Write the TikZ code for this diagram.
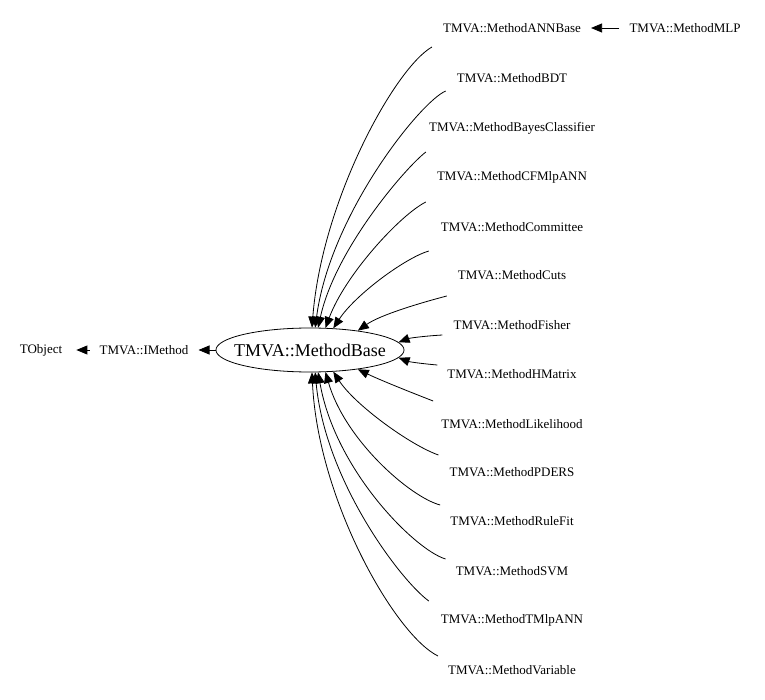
\documentclass[tikz,border=0pt]{standalone}
\usepackage{fontspec}
\setmainfont{Liberation Serif}
\usetikzlibrary{shapes.geometric,arrows.meta}
\tikzstyle{cls}=[inner xsep=10pt, inner ysep=3pt, font=\fontsize{13}{15}\selectfont]
\tikzstyle{base}=[ellipse, draw, line width=0.8pt, inner sep=0pt, minimum height=44pt, font=\fontsize{18}{20}\selectfont]
\tikzstyle{inh}=[line width=0.8pt, -{Triangle[length=11pt,width=9pt]}]
\begin{document}
\begin{tikzpicture}[x=1pt, y=-1pt]
                    \useasboundingbox (0,0) rectangle (765,700);
                    \node[base] (1) at (310,350) {\makebox[133pt]{TMVA::MethodBase}};
                    \node[cls] (2) at (144,350) {TMVA::IMethod};
                    \node[cls, inner xsep=14pt] (3) at (41,350) {TObject};
                    \node[cls] (4) at (512,28) {TMVA::MethodANNBase};
                    \node[cls] (5) at (685,28) {TMVA::MethodMLP};
                    \node[cls] (6) at (512,78) {TMVA::MethodBDT};
                    \node[cls] (7) at (512,128) {TMVA::MethodBayesClassifier};
                    \node[cls] (8) at (512,177) {TMVA::MethodCFMlpANN};
                    \node[cls] (9) at (512,227) {TMVA::MethodCommittee};
                    \node[cls] (10) at (512,275) {TMVA::MethodCuts};
                    \node[cls] (11) at (512,325) {TMVA::MethodFisher};
                    \node[cls] (12) at (512,374) {TMVA::MethodHMatrix};
                    \node[cls] (13) at (512,424) {TMVA::MethodLikelihood};
                    \node[cls] (14) at (512,472) {TMVA::MethodPDERS};
                    \node[cls] (15) at (512,521) {TMVA::MethodRuleFit};
                    \node[cls] (16) at (512,571) {TMVA::MethodSVM};
                    \node[cls] (17) at (512,620) {TMVA::MethodTMlpANN};
                    \node[cls] (18) at (512,670) {TMVA::MethodVariable};
                    \draw[inh] (2)--(3);
                    \draw[inh] (1)--(2);
                    \draw[inh] (5)--(4);
                    \draw[inh] ([shift={(-1,19)}]4.west) .. controls (395,68) and (322,200) .. (1.85);
                    \draw[inh] ([shift={(-1,13)}]6.west) .. controls (420,102) and (330,215) .. (1.77);
                    \draw[inh] ([shift={(7,24)}]7.west) .. controls (405,168) and (335,250) .. (1.70);
                    \draw[inh] ([shift={(-1,25)}]8.west) .. controls (400,215) and (345,275) .. (1.55);
                    \draw[inh] ([shift={(-2,24)}]9.west) .. controls (405,258) and (355,295) .. (1.43);
                    \draw[inh] ([shift={(-1,21)}]10.west) .. controls (420,303) and (380,315) .. (1.22);
                    \draw[inh] ([shift={(-1,10)}]11.west) .. controls (425,336) and (410,338) .. (1.5);
                    \draw[inh] ([shift={(0,-9)}]12.west) .. controls (425,364) and (410,362) .. (1.355);
                    \draw[inh] ([shift={(2,-23)}]13.west) .. controls (410,392) and (380,380) .. (1.338);
                    \draw[inh] ([shift={(-1,-17)}]14.west) .. controls (410,445) and (355,405) .. (1.317);
                    \draw[inh] ([shift={(0,-16)}]15.west) .. controls (410,497) and (345,440) .. (1.305);
                    \draw[inh] ([shift={(0,-12)}]16.west) .. controls (415,550) and (335,470) .. (1.290);
                    \draw[inh] ([shift={(-2,-19)}]17.west) .. controls (400,580) and (325,480) .. (1.283);
                    \draw[inh] ([shift={(0,-14)}]18.west) .. controls (395,635) and (318,500) .. (1.275);
                \end{tikzpicture}
\end{document}
